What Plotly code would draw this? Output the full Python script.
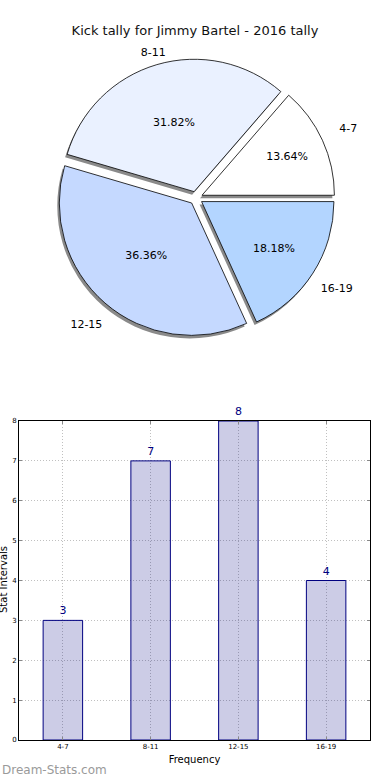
import plotly.graph_objects as go

title_text = "Kick tally for Jimmy Bartel - 2016 tally"
categories = ["4-7", "8-11", "12-15", "16-19"]
counts = [3, 7, 8, 4]
pie_colors = ["#ffffff", "#eaf1ff", "#c5d9ff", "#b3d5ff"]
y_ticks = [0, 1, 2, 3, 4, 5, 6, 7, 8]
near_labels = ["8-11"]  # labels set on the tighter (top) label ring

W, H = 390, 780
FONT = "DejaVu Sans"

# clockwise drawing of reversed order == matplotlib counterclockwise from 3 o'clock
rev_labels = categories[::-1]
rev_counts = counts[::-1]
rev_colors = pie_colors[::-1]

# pie geometry (pixels)
cx, cy, ext = 196, 198, 139


def dom(r, dx=0.0, dy=0.0):
    return dict(x=[(cx - r + dx) / W, (cx + r + dx) / W],
                y=[1 - (cy + r + dy) / H, 1 - (cy - r + dy) / H])


pull = [0.05] * len(counts)
common = dict(labels=rev_labels, values=rev_counts, sort=False,
              direction="clockwise", rotation=90)

fig = go.Figure()

# shadow
fig.add_trace(go.Pie(
    **common, pull=pull, domain=dom(ext, -2, 3),
    marker=dict(colors=["#8a8a8a"] * 4, line=dict(color="#8a8a8a", width=0)),
    textinfo="none", hoverinfo="skip", showlegend=False,
))
# main pie with percentages
fig.add_trace(go.Pie(
    **common, pull=pull, domain=dom(ext),
    marker=dict(colors=rev_colors, line=dict(color="#000000", width=0.8)),
    texttemplate="%{percent:.2%}", textposition="inside",
    insidetextorientation="horizontal",
    textfont=dict(family=FONT, size=11, color="#000000"),
    showlegend=False,
))
# outer labels in transparent rings
for r_out, hole, pick in [(186, 0.8, False), (167, 0.82, True)]:
    tt = ["%{label}" if ((lab in near_labels) == pick) else "" for lab in rev_labels]
    fig.add_trace(go.Pie(
        **common, hole=hole, domain=dom(r_out),
        marker=dict(colors=["rgba(0,0,0,0)"] * 4, line=dict(width=0)),
        texttemplate=tt, textposition="inside",
        insidetextorientation="horizontal",
        textfont=dict(family=FONT, size=11, color="#000000"),
        hoverinfo="skip", showlegend=False,
    ))

# bar chart
fig.add_trace(go.Bar(
    x=categories, y=counts, width=0.45,
    marker=dict(color="rgba(0,0,128,0.2)", line=dict(color="#000080", width=1)),
    text=[str(c) for c in counts], textposition="outside", cliponaxis=False,
    textfont=dict(family=FONT, size=11, color="#000080"),
    xaxis="x", yaxis="y", showlegend=False,
))

fig.update_layout(
    width=W, height=H,
    margin=dict(l=0, r=0, t=0, b=0),
    paper_bgcolor="white", plot_bgcolor="white",
    font=dict(family=FONT, color="#000000"),
    title=dict(text=title_text, x=0.5, xanchor="center", y=1 - 30 / H, yanchor="middle",
               font=dict(family=FONT, size=13, color="#111111")),
    xaxis=dict(
        domain=[19 / W, 370 / W], range=[-0.5, 3.5], type="category",
        showline=True, linecolor="#000000", linewidth=1, mirror="ticks",
        ticks="inside", ticklen=3, tickcolor="#888888",
        showgrid=True, gridcolor="#c0c0c0", griddash="1px,2px", gridwidth=1,
        tickfont=dict(family=FONT, size=7, color="#000000"),
        title=dict(text="Frequency", font=dict(family=FONT, size=10), standoff=5),
        anchor="y", zeroline=False, automargin=False,
    ),
    yaxis=dict(
        domain=[1 - 740 / H, 1 - 421 / H], range=[0, 8], tickvals=y_ticks,
        showline=True, linecolor="#000000", linewidth=1, mirror="ticks",
        ticks="inside", ticklen=3, tickcolor="#888888",
        showgrid=True, gridcolor="#c0c0c0", griddash="1px,2px", gridwidth=1,
        tickfont=dict(family=FONT, size=7, color="#000000"),
        anchor="x", zeroline=False, automargin=False,
    ),
    annotations=[
        dict(text="Stat Intervals", xref="paper", yref="paper", x=3 / W, y=1 - 580 / H,
             xanchor="center", yanchor="middle", textangle=-90, showarrow=False,
             font=dict(family=FONT, size=10, color="#000000")),
        dict(text="Dream-Stats.com", xref="paper", yref="paper", x=0, y=1 - 770 / H,
             xanchor="left", yanchor="middle", showarrow=False,
             font=dict(family=FONT, size=12, color="#9a9a9a")),
    ],
)

fig.write_html("out.html", config={"displayModeBar": False},
               post_script="document.body.style.margin='0';document.body.style.overflow='hidden';")
